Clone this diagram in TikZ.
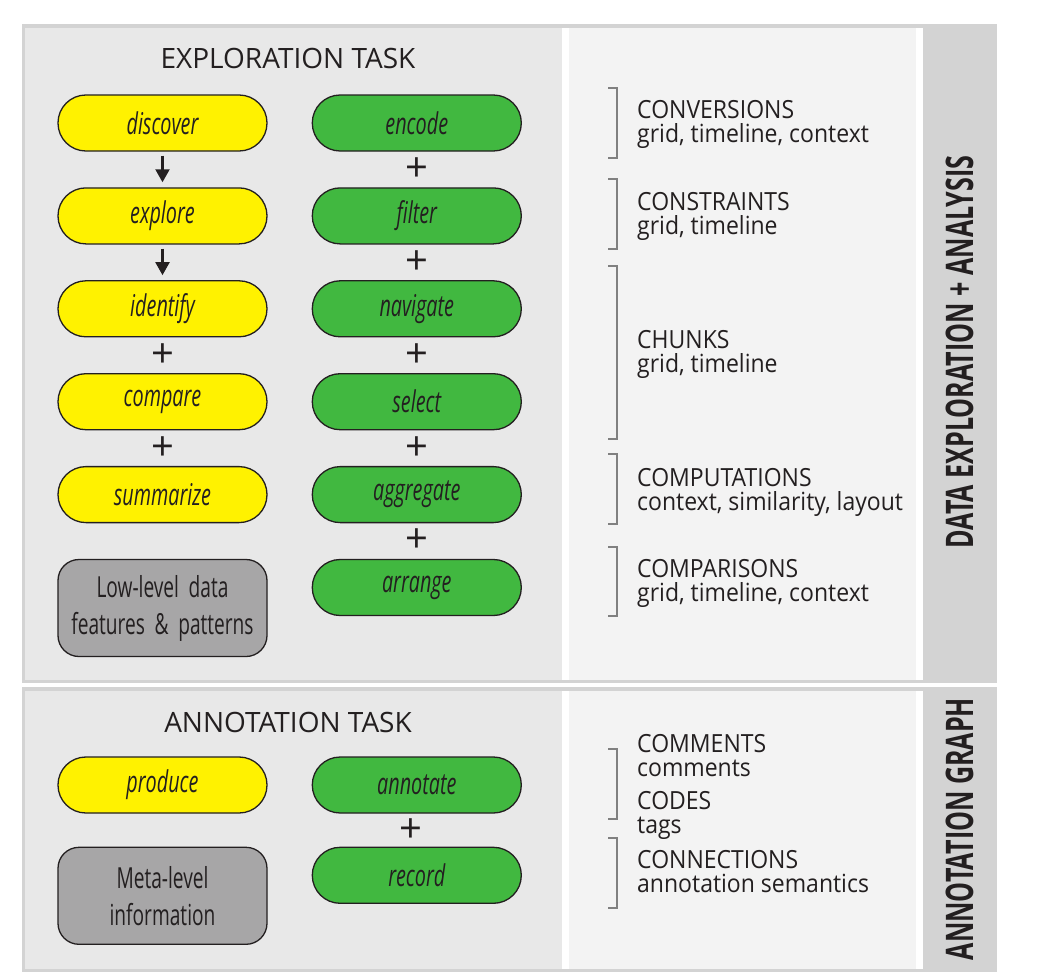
\documentclass[tikz,border=0pt]{standalone}
\usepackage{fontspec}
\setmainfont{Open Sans}
\newfontfamily\narrowfont[FakeStretch=0.66]{Open Sans}
\newfontfamily\entryfont[FakeStretch=0.92]{Open Sans}
\usetikzlibrary{arrows.meta,positioning}
\definecolor{FrameGray}{HTML}{D3D3D3}
\definecolor{PanelGray}{HTML}{E8E8E8}
\definecolor{PanelLight}{HTML}{F3F3F3}
\definecolor{TaskYellow}{HTML}{FFF200}
\definecolor{TaskGreen}{HTML}{41B840}
\definecolor{LevelGray}{HTML}{A7A6A7}
\definecolor{InkDark}{HTML}{231F20}
\definecolor{BracketGray}{HTML}{808080}

\begin{document}
\begin{tikzpicture}[
  x=1pt, y=-1pt,
  node distance=35.6pt,
  task/.style={draw=InkDark, line width=1.3pt, rounded corners=27.9pt, minimum width=209pt,
    minimum height=56pt, inner sep=0pt, text=InkDark, font=\narrowfont\itshape\fontsize{30}{32}\selectfont},
  level/.style={draw=InkDark, line width=1.3pt, fill=LevelGray, rounded corners=21pt, minimum width=209pt,
    minimum height=97pt, text width=200pt, align=center, text=InkDark, font=\narrowfont\fontsize{29}{37}\selectfont},
  flow/.style={-{Triangle[length=13pt,width=14pt]}, line width=2.2pt, draw=InkDark, shorten <=4pt, shorten >=5pt},
  plus/.style={inner sep=0pt, text=InkDark, font=\fontsize{40}{40}\selectfont},
  heading/.style={anchor=base, inner sep=0pt, text=InkDark, font=\fontsize{28}{30}\selectfont},
  entry/.style={anchor=base west, align=left, inner sep=0pt, text=InkDark, font=\entryfont\fontsize{25}{24}\selectfont},
  sidebar/.style={rotate=90, inner sep=0pt, text=InkDark, font=\narrowfont\bfseries\fontsize{38}{38}\selectfont},
  bracket/.style={draw=BracketGray, line width=1.8pt}
]
\useasboundingbox (0,0) rectangle (1041,974);
% panels
\fill[FrameGray] (22,24) rectangle (997,683);
\fill[white] (25,28) rectangle (923,680);
\fill[PanelGray] (25,28) rectangle (562,680);
\fill[PanelLight] (569,28) rectangle (916,680);
\fill[FrameGray] (22,687) rectangle (997,972);
\fill[white] (25,691) rectangle (923,969);
\fill[PanelGray] (25,691) rectangle (562,969);
\fill[PanelLight] (569,691) rectangle (916,969);

% exploration task
\node[heading] (exptitle) at (288,69) {EXPLORATION TASK};
\node[task, fill=TaskYellow] (discover) at (162.5,123) {discover};
\node[task, fill=TaskYellow, below=of discover] (explore) {explore};
\node[task, fill=TaskYellow, below=of explore] (identify) {identify};
\node[task, fill=TaskYellow, below=of identify] (compare) {compare};
\node[task, fill=TaskYellow, below=of compare] (summarize) {summarize};
\node[level, below=of summarize] (lowlevel) {Low-level data\\features \& patterns};
\node[task, fill=TaskGreen, right=44pt of discover] (encode) {encode};
\node[task, fill=TaskGreen, below=of encode] (filter) {filter};
\node[task, fill=TaskGreen, below=of filter] (navigate) {navigate};
\node[task, fill=TaskGreen, below=of navigate] (select) {select};
\node[task, fill=TaskGreen, below=of select] (aggregate) {aggregate};
\node[task, fill=TaskGreen, below=of aggregate] (arrange) {arrange};
\draw[flow] (discover) -- (explore);
\draw[flow] (explore) -- (identify);
\path (identify) -- node[plus] (p1) {+} (compare);
\path (compare) -- node[plus] (p2) {+} (summarize);
\path (encode) -- node[plus] (p3) {+} (filter);
\path (filter) -- node[plus] (p4) {+} (navigate);
\path (navigate) -- node[plus] (p5) {+} (select);
\path (select) -- node[plus] (p6) {+} (aggregate);
\path (aggregate) -- node[plus] (p7) {+} (arrange);

% exploration graph
\foreach \ya/\yb in {88/158, 179/249, 266/439, 454/524, 547/616}
  \draw[bracket] (608,\ya) -| (617,\yb) -- (608,\yb);
\node[entry] (conversions) at (637,142) {CONVERSIONS\\grid, timeline, context};
\node[entry] (constraints) at (637,234) {CONSTRAINTS\\grid, timeline};
\node[entry] (chunks) at (637,372) {CHUNKS\\grid, timeline};
\node[entry] (computations) at (637,510) {COMPUTATIONS\\context, similarity, layout};
\node[entry] (comparisons) at (637,601) {COMPARISONS\\grid, timeline, context};
\node[sidebar] (explabel) at (960,352) {DATA EXPLORATION + ANALYSIS};

% annotation task
\node[heading] (anntitle) at (288,732) {ANNOTATION TASK};
\node[task, fill=TaskYellow] (produce) at (162.5,785) {produce};
\node[level, below=33pt of produce] (metalevel) {Meta-level\\information};
\node[task, fill=TaskGreen, right=44pt of produce] (annotate) {annotate};
\node[task, fill=TaskGreen, below=33pt of annotate] (record) {record};
\path (annotate) -- node[plus, xshift=-6pt] (p8) {+} (record);

% annotation graph
\foreach \ya/\yb in {749/819, 838/908}
  \draw[bracket] (608,\ya) -| (617,\yb) -- (608,\yb);
\node[entry] (comments) at (637,776) {COMMENTS\\comments};
\node[entry] (codes) at (637,833) {CODES\\tags};
\node[entry] (connections) at (637,892) {CONNECTIONS\\annotation semantics};
\node[sidebar] (annlabel) at (960,829) {ANNOTATION GRAPH};
\end{tikzpicture}
\end{document}
